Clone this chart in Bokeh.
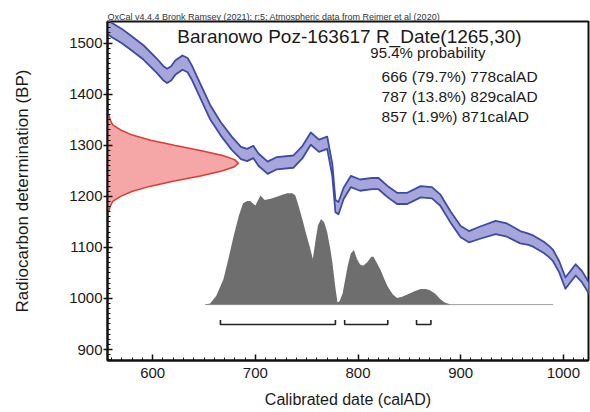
from bokeh.plotting import figure
from bokeh.models import SingleIntervalTicker, Label, Range1d
from bokeh.embed import file_html
from bokeh.resources import INLINE

# ---- data ----
# calibration curve (centre line, BP) and half-width of band
cal_year = [556, 560, 570, 578, 591, 604, 610, 614, 618, 622, 629, 634, 638, 647, 656, 666, 677, 686,
            692, 698, 703, 712, 721, 737, 746, 754, 762, 770, 775, 778, 781, 786, 793,
            802, 814, 820, 829, 838, 848, 861, 872, 880, 890, 900, 908, 919, 934, 945,
            958, 966, 971, 976, 981, 986, 990, 996, 1002, 1012, 1018, 1026]
cal_bp = [1532, 1526, 1514, 1502, 1482, 1456, 1442, 1436, 1441, 1452, 1462, 1457, 1443, 1404, 1365, 1333, 1304, 1285,
          1281, 1287, 1272, 1256, 1265, 1268, 1287, 1313, 1299, 1305, 1251, 1181, 1177, 1206, 1229,
          1222, 1225, 1225, 1209, 1196, 1196, 1209, 1207, 1193, 1160, 1131, 1121, 1129, 1139, 1134,
          1120, 1116, 1112, 1106, 1100, 1092, 1084, 1062, 1030, 1056, 1043, 1017]
cal_sig = [14, 14, 14, 14, 14, 14, 14, 14, 14, 14, 14, 14, 14, 14, 14, 13, 13, 12,
           12, 12, 12, 12, 12, 12, 12, 12, 12, 12, 12, 12, 12, 11, 11,
           11, 11, 11, 11, 11, 11, 11, 11, 11, 11, 11, 11, 12, 13, 13,
           12, 11, 11, 11, 11, 11, 11, 11, 11, 11, 11, 11]

# measured radiocarbon date distribution (relative density)
r_bp = [1170, 1180, 1190, 1200, 1210, 1220, 1230, 1240, 1250, 1258, 1265,
        1272, 1280, 1290, 1300, 1310, 1320, 1330, 1340, 1350, 1360]
r_dens = [0.01, 0.02, 0.04, 0.10, 0.19, 0.33, 0.51, 0.71, 0.88, 0.97, 1.00,
          0.97, 0.88, 0.71, 0.51, 0.33, 0.19, 0.10, 0.04, 0.02, 0.01]

# calibrated date distribution (relative probability)
p_year = [651, 656, 662, 669, 674, 679, 684, 688, 692, 695, 700, 705, 709, 715, 721, 727, 731,
          736, 739, 742, 746, 749, 753, 756, 759, 761, 764, 767, 770, 773, 775, 778, 780, 782,
          785, 788, 790, 793, 796, 799, 802, 805, 809, 813, 815, 818, 822, 826, 829, 834, 838,
          843, 848, 855, 861, 866, 870, 875, 880, 884, 890]
p_prob = [0.0, 0.01, 0.08, 0.23, 0.42, 0.62, 0.80, 0.91, 0.93, 0.93, 0.89, 0.98, 0.94, 0.95, 0.97,
          0.99, 1.00, 1.00, 0.98, 0.89, 0.76, 0.65, 0.52, 0.41, 0.60, 0.71, 0.77, 0.74, 0.65, 0.50,
          0.38, 0.15, 0.02, 0.03, 0.10, 0.25, 0.35, 0.46, 0.49, 0.41, 0.36, 0.35, 0.38, 0.43, 0.43,
          0.38, 0.31, 0.22, 0.16, 0.09, 0.06, 0.07, 0.09, 0.12, 0.14, 0.14, 0.13, 0.10, 0.05, 0.02, 0.0]
p_line = [651, 990]

# 95.4% ranges
rng_start = [666, 787, 857]
rng_end = [778, 829, 871]
rng_pct = ["79.7%", "13.8%", "1.9%"]

header = "OxCal v4.4.4 Bronk Ramsey (2021); r:5; Atmospheric data from Reimer et al (2020)"
title = "Baranowo Poz-163617 R_Date(1265,30)"

# ---- layout constants ----
X0, X1 = 556, 1024.5
Y0, Y1 = 878.5, 1542.5
RED_W = 127.5
P_BASE = 988
P_H = 218
BR_Y = 949
BR_T = 9
FONT = "Liberation Sans"

p = figure(width=590, height=410, x_range=Range1d(X0, X1), y_range=Range1d(Y0, Y1),
           output_backend="svg", toolbar_location=None,
           min_border_left=107, min_border_right=2, min_border_top=21, min_border_bottom=50)

p.title.text = header
p.title.text_font = FONT
p.title.text_font_size = "9px"
p.title.text_font_style = "normal"
p.title.text_color = "#333333"
p.title.standoff = 0
p.title.offset = 0

p.xgrid.visible = False
p.ygrid.visible = False
p.outline_line_color = "#111111"
p.outline_line_width = 2

# calibrated distribution
p.line(p_line, [P_BASE, P_BASE], color="#a0a0a0", line_width=1)
p.varea(x=p_year, y1=[P_BASE] * len(p_year), y2=[P_BASE + v * P_H for v in p_prob],
        fill_color="#6e6e6e")

# calibration curve band
upper = [m + s for m, s in zip(cal_bp, cal_sig)]
lower = [m - s for m, s in zip(cal_bp, cal_sig)]
p.varea(x=cal_year, y1=lower, y2=upper, fill_color="#a6a6da")
p.line(cal_year, upper, color="#3d4aa6", line_width=1.8, line_join="round")
p.line(cal_year, lower, color="#3d4aa6", line_width=1.8, line_join="round")

# radiocarbon date distribution
red_x = [X0 + d * RED_W for d in r_dens]
p.harea(y=r_bp, x1=[X0] * len(r_bp), x2=red_x, fill_color="#f5a6a6")
p.line(red_x, r_bp, color="#e03a32", line_width=1.5)

# range brackets
xs, ys = [], []
for a, b in zip(rng_start, rng_end):
    xs.append([a, a, b, b])
    ys.append([BR_Y + BR_T, BR_Y, BR_Y, BR_Y + BR_T])
p.multi_line(xs, ys, color="#222222", line_width=1.6)

# texts
p.add_layout(Label(x=624, y=1513, text=title, text_font=FONT, text_font_size="19px",
                   text_baseline="middle", text_color="#1a1a1a"))
p.add_layout(Label(x=812, y=1482, text="95.4% probability", text_font=FONT,
                   text_font_size="15px", text_baseline="middle", text_color="#1a1a1a"))
line_y = [1435, 1396, 1357]
for a, b, pc, yy in zip(rng_start, rng_end, rng_pct, line_y):
    p.add_layout(Label(x=823, y=yy, text=f"{a} ({pc}) {b}calAD", text_font=FONT,
                       text_font_size="15.5px", text_baseline="middle", text_color="#1a1a1a"))

# axes
p.xaxis.ticker = SingleIntervalTicker(interval=100, num_minor_ticks=10)
p.yaxis.ticker = SingleIntervalTicker(interval=100, num_minor_ticks=10)
for ax in (p.xaxis[0], p.yaxis[0]):
    ax.axis_line_color = "#111111"
    ax.axis_line_width = 2
    ax.major_tick_line_color = "#111111"
    ax.minor_tick_line_color = "#111111"
    ax.major_tick_line_width = 1.5
    ax.major_label_text_font = FONT
    ax.major_label_text_font_size = "15px"
    ax.major_label_text_color = "#1a1a1a"
    ax.axis_label_text_font = FONT
    ax.axis_label_text_font_style = "normal"
    ax.axis_label_text_color = "#1a1a1a"

p.xaxis.axis_label = "Calibrated date (calAD)"
p.xaxis.axis_label_text_font_size = "16px"
p.xaxis.major_tick_in = 6
p.xaxis.major_tick_out = 0
p.xaxis.minor_tick_in = 3
p.xaxis.minor_tick_out = 0
p.xaxis.major_label_standoff = 7
p.xaxis.axis_label_standoff = 10

p.yaxis.axis_label = "Radiocarbon determination (BP)"
p.yaxis.axis_label_text_font_size = "17px"
p.yaxis.major_tick_in = 5
p.yaxis.major_tick_out = 4
p.yaxis.minor_tick_in = 3
p.yaxis.minor_tick_out = 0
p.yaxis.major_label_standoff = 1
p.yaxis.axis_label_standoff = 34

open("out.html", "w").write(file_html(p, INLINE))
